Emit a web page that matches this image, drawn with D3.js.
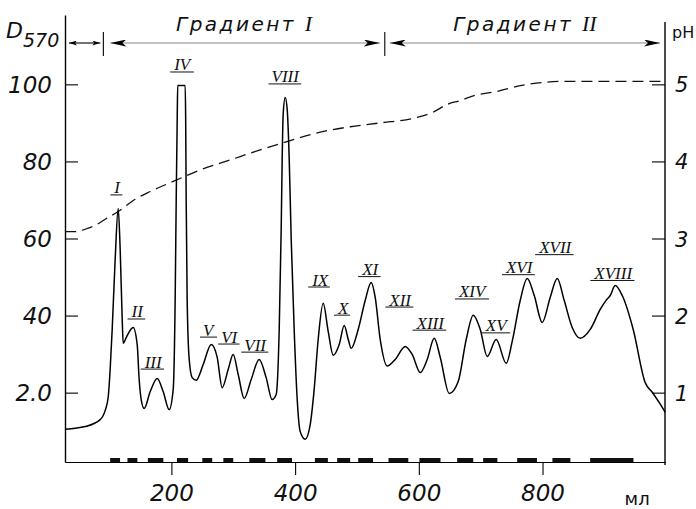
<!DOCTYPE html>
<html>
<head>
<meta charset="utf-8">
<script src="https://cdn.jsdelivr.net/npm/d3@7"></script>
<style>
body { margin: 0; background: #fff; }
text { fill: #111; }
.num { font-family: 'DejaVu Sans', sans-serif; font-style: italic; }
</style>
</head>
<body>
<svg width="696" height="509"></svg>
<script>
// elution profile, D570 vs ml
const elutionMl = [28.3, 60.6, 84.9, 93.0, 97.8, 101.0, 104.3, 109.1, 114.0, 117.2, 120.5, 122.1,
    126.9, 138.2, 144.7, 147.9, 151.2, 156.0, 165.8, 177.0, 186.7, 196.4, 202.9, 206.1, 207.8,
    209.4, 210.2, 222.3, 223.1, 223.9, 225.5, 228.8, 233.6, 240.1, 251.4, 264.4, 274.0, 282.1,
    291.8, 299.9, 308.0, 317.7, 329.0, 341.9, 353.2, 362.9, 369.4, 374.3, 377.5, 379.1, 380.7,
    384.0, 387.2, 390.5, 393.7, 398.5, 403.4, 408.2, 416.3, 424.4, 430.8, 437.3, 445.4, 453.5,
    461.6, 471.3, 479.4, 485.9, 490.7, 502.0, 513.3, 523.0, 529.5, 537.6, 548.9, 561.8, 578.0,
    589.3, 602.3, 613.6, 624.9, 634.6, 649.2, 663.7, 676.6, 688.0, 699.3, 710.6, 725.1, 741.3,
    751.0, 763.9, 775.3, 786.6, 799.5, 812.4, 823.8, 835.1, 848.0, 861.0, 877.1, 893.3, 903.0,
    909.5, 917.5, 928.9, 946.6, 966.0, 977.4, 990.3, 998.4];
const absorbance = [10.5, 11.2, 13.0, 15.4, 18.8, 26.0, 36.4, 54.6, 67.8, 57.2, 39.0, 32.8,
    34.3, 36.9, 32.5, 23.4, 18.2, 15.9, 20.3, 23.7, 20.3, 15.6, 20.8, 44.2, 70.2,
    90.9, 99.7, 99.7, 90.9, 70.2, 44.2, 28.6, 23.9, 23.2, 27.3, 32.5, 29.2, 21.3,
    26.0, 29.9, 24.7, 18.5, 23.4, 28.6, 23.9, 18.2, 19.5, 36.4, 62.3, 80.5, 92.2,
    96.6, 93.5, 80.5, 59.8, 36.4, 18.2, 9.9, 7.9, 11.7, 20.8, 33.8, 43.2, 35.9,
    29.7, 32.5, 37.4, 33.8, 31.5, 36.4, 43.9, 48.6, 44.7, 33.8, 26.9, 28.6, 32.0,
    29.9, 25.2, 28.6, 34.1, 29.2, 19.8, 22.9, 33.8, 40.1, 36.4, 29.4, 33.8, 27.6,
    33.3, 43.9, 49.6, 45.2, 38.2, 44.7, 49.6, 43.9, 36.9, 34.1, 36.4, 41.6, 44.0,
    45.2, 47.8, 45.2, 36.4, 22.6, 20.1, 17.0, 14.9];

// pH of the gradient (dashed line, right axis)
const phMl = [28.3, 44.5, 60.6, 76.8, 93.0, 114.0, 141.5, 165.8, 202.9, 246.6, 295.1, 343.6,
    392.1, 440.6, 489.1, 537.6, 591.0, 623.3, 646.0, 667.0, 688.0, 726.8, 768.8, 807.6,
    840.0, 914.3, 998.4];
const phValues = [3.09, 3.09, 3.12, 3.17, 3.25, 3.35, 3.51, 3.61, 3.74, 3.89, 4.02, 4.15,
    4.27, 4.38, 4.45, 4.50, 4.56, 4.64, 4.74, 4.79, 4.85, 4.91, 4.99, 5.03,
    5.04, 5.04, 5.04];

// peak labels and where they sit
const peakNames = ["I", "II", "III", "IV", "V", "VI", "VII", "VIII", "IX", "X", "XI", "XII",
    "XIII", "XIV", "XV", "XVI", "XVII", "XVIII"];
const peakLabelMl = [112.4, 144.7, 170.6, 217.5, 259.5, 293.4, 335.4, 384.0, 440.6, 477.8,
    521.4, 569.9, 618.4, 686.3, 725.1, 762.3, 820.5, 914.3];
const peakLabelD = [71.7, 39.5, 26.5, 103.6, 34.8, 33.0, 30.9, 100.5, 47.8, 40.5,
    50.5, 42.6, 36.6, 44.7, 35.9, 51.0, 56.2, 49.5];

// collected fractions (thick marks on the bottom axis)
const fractionStart = [101, 129, 162, 209, 250, 284, 326, 371, 432, 468, 502, 551, 601, 662, 704, 759, 816, 877];
const fractionEnd = [117, 145, 187, 227, 266, 300, 352, 395, 453, 489, 526, 583, 635, 688, 727, 791, 845, 947];

const leftTicks = [20, 40, 60, 80, 100];
const leftTickLabels = ["2.0", "40", "60", "80", "100"];
const rightTicks = [1, 2, 3, 4, 5];
const bottomTicks = [200, 400, 600, 800];

// gradient ranges along the top
const gradientBounds = [28, 90, 545, 998];
const gradientNames = ["", "Градиент ", "Градиент "];
const gradientNumerals = ["", "I", "II"];

const svg = d3.select("svg");
const romanFont = "'Liberation Serif', 'DejaVu Serif', serif";

const x = d3.scaleLinear().domain([28, 998]).range([65, 665]);
const y = d3.scaleLinear().domain([2, 118]).range([462, 15]);
const yR = d3.scaleLinear().domain([0.1, 5.9]).range([462, 15]);

svg.append("rect").attr("width", 696).attr("height", 509).attr("fill", "#fff");

// left axis
const gl = svg.append("g")
    .attr("transform", `translate(${x(28)},0)`)
    .call(d3.axisLeft(y).tickValues(leftTicks).tickSize(-13).tickSizeOuter(0).tickPadding(13)
        .tickFormat((d, i) => leftTickLabels[i]));
gl.select(".domain").attr("stroke-width", 1.4);
gl.selectAll(".tick line").attr("stroke-width", 1.1);
gl.selectAll("text").attr("class", "num").attr("font-family", null)
    .attr("font-size", 23).attr("dy", "0.36em");

// right axis
const gr = svg.append("g")
    .attr("transform", `translate(${x(998)},0)`)
    .call(d3.axisRight(yR).tickValues(rightTicks).tickSize(-13).tickSizeOuter(0).tickPadding(10)
        .tickFormat(d3.format("d")));
gr.select(".domain").remove();
gr.append("line").attr("y1", 22).attr("y2", 465).attr("stroke", "#000").attr("stroke-width", 1.4);
gr.selectAll(".tick line").attr("stroke-width", 1.1);
gr.selectAll("text").attr("class", "num").attr("font-family", null)
    .attr("font-size", 21).attr("dy", "0.36em");

// bottom axis
const gb = svg.append("g")
    .attr("transform", `translate(0,${y(2)})`)
    .call(d3.axisBottom(x).tickValues(bottomTicks).tickSize(13).tickSizeOuter(0).tickPadding(10));
gb.select(".domain").attr("stroke-width", 1.2);
gb.selectAll(".tick line").attr("stroke-width", 1.1);
gb.selectAll("text").attr("class", "num").attr("font-family", null)
    .attr("font-size", 23);

svg.append("text").attr("x", x(953)).attr("y", 505)
    .attr("font-family", "'DejaVu Sans', sans-serif").attr("font-size", 18).attr("text-anchor", "middle")
    .text("мл");

// fraction marks
svg.append("g").selectAll("rect")
    .data(fractionStart)
    .join("rect")
    .attr("x", d => x(d))
    .attr("width", (d, i) => x(fractionEnd[i]) - x(d))
    .attr("y", y(2) - 4)
    .attr("height", 4)
    .attr("fill", "#111");

// axis titles
const dLabel = svg.append("text").attr("class", "num").attr("x", 6).attr("y", 38)
    .attr("font-size", 22);
dLabel.append("tspan").text("D");
dLabel.append("tspan").attr("font-size", 19).attr("dy", 9).text("570");

svg.append("text").attr("x", 672).attr("y", 38)
    .attr("font-family", "'DejaVu Sans', sans-serif").attr("font-size", 16).text("pH");

// gradient arrows
const defs = svg.append("defs");
function arrowMarker(id, w, h) {
    defs.append("marker")
        .attr("id", id)
        .attr("viewBox", `0 ${-h / 2} ${w} ${h}`)
        .attr("refX", w).attr("refY", 0)
        .attr("markerWidth", w).attr("markerHeight", h)
        .attr("markerUnits", "userSpaceOnUse")
        .attr("orient", "auto-start-reverse")
        .append("path")
        .attr("d", `M0,${-h / 2}L${w},0L0,${h / 2}L${w * 0.25},0Z`)
        .attr("fill", "#000");
}
arrowMarker("ah", 16, 7);
arrowMarker("ahs", 8, 5);

const arrowY = 43;
const insets = [[4, 3], [7, 5], [5, 5]];
const ga = svg.append("g");
for (let i = 0; i < 3; i++) {
    const x0 = x(gradientBounds[i]) + insets[i][0];
    const x1 = x(gradientBounds[i + 1]) - insets[i][1];
    ga.append("line")
        .attr("x1", x0).attr("x2", x1)
        .attr("y1", arrowY).attr("y2", arrowY)
        .attr("stroke", i === 0 ? "#000" : "#888")
        .attr("stroke-width", 1.1)
        .attr("marker-start", i === 0 ? "url(#ahs)" : "url(#ah)")
        .attr("marker-end", i === 0 ? "url(#ahs)" : "url(#ah)");
    if (gradientNames[i]) {
        const t = ga.append("text")
            .attr("class", "num")
            .attr("x", (x(gradientBounds[i]) + x(gradientBounds[i + 1])) / 2)
            .attr("y", 31)
            .attr("text-anchor", "middle")
            .attr("font-size", 20).attr("letter-spacing", 2.5);
        t.append("tspan").text(gradientNames[i]);
        t.append("tspan").attr("font-family", romanFont).attr("letter-spacing", 0)
            .attr("font-size", 22).text(gradientNumerals[i]);
    }
}
[1, 2].forEach(i => {
    ga.append("line")
        .attr("x1", x(gradientBounds[i])).attr("x2", x(gradientBounds[i]))
        .attr("y1", 32).attr("y2", 56)
        .attr("stroke", "#000").attr("stroke-width", 1.1);
});

// pH dashed line
const phData = phMl.map((m, i) => ({ m, v: phValues[i] }));
svg.append("path")
    .datum(phData)
    .attr("fill", "none")
    .attr("stroke", "#111")
    .attr("stroke-width", 1.3)
    .attr("stroke-dasharray", "11,6")
    .attr("d", d3.line().x(d => x(d.m)).y(d => yR(d.v)).curve(d3.curveMonotoneX));

// elution profile
const profile = elutionMl.map((m, i) => ({ m, v: absorbance[i] }));
svg.append("path")
    .datum(profile)
    .attr("fill", "none")
    .attr("stroke", "#000")
    .attr("stroke-width", 1.5)
    .attr("stroke-linejoin", "round")
    .attr("d", d3.line().x(d => x(d.m)).y(d => y(d.v)).curve(d3.curveMonotoneX));

// peak labels with underline bars
const gp = svg.append("g");
peakNames.forEach((name, i) => {
    const t = gp.append("text")
        .attr("x", x(peakLabelMl[i]))
        .attr("y", y(peakLabelD[i]))
        .attr("text-anchor", "middle")
        .attr("font-family", romanFont).attr("font-style", "italic")
        .attr("font-size", 17)
        .text(name);
    const bb = t.node().getBBox();
    gp.append("line")
        .attr("x1", bb.x - 3).attr("x2", bb.x + bb.width + 1)
        .attr("y1", y(peakLabelD[i]) + 1.5).attr("y2", y(peakLabelD[i]) + 1.5)
        .attr("stroke", "#111").attr("stroke-width", 1);
});
</script>
</body>
</html>
